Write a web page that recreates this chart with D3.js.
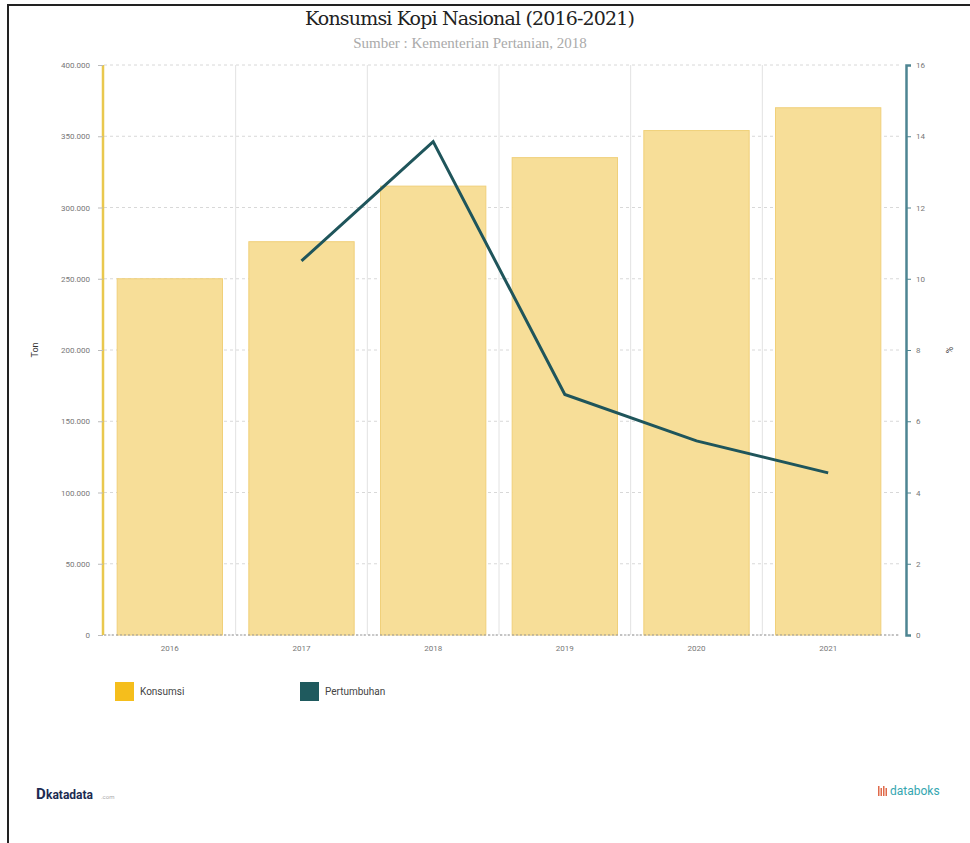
<!DOCTYPE html>
<html>
<head>
<meta charset="utf-8">
<script src="https://cdn.jsdelivr.net/npm/d3@7"></script>
<style>
  html, body { margin: 0; padding: 0; background: #fff; }
  svg { display: block; }
</style>
</head>
<body>
<svg id="chart" width="970" height="843"></svg>
<script>
const years = ["2016", "2017", "2018", "2019", "2020", "2021"];
const konsumsi = [250000, 276000, 315000, 335000, 354000, 370000];
const pertumbuhan = [null, 10.5, 13.85, 6.75, 5.45, 4.55];
const leftTicks = [0, 50000, 100000, 150000, 200000, 250000, 300000, 350000, 400000];
const rightTicks = [0, 2, 4, 6, 8, 10, 12, 14, 16];
const title = "Konsumsi Kopi Nasional (2016-2021)";
const subtitle = "Sumber : Kementerian Pertanian, 2018";
const legendLabels = ["Konsumsi", "Pertumbuhan"];

const svg = d3.select("#chart");
const fmt = d => d3.format(",")(d).replace(/,/g, ".");

// frame
svg.append("rect").attr("x", 8).attr("y", 5).attr("width", 980).attr("height", 860)
  .attr("fill", "none").attr("stroke", "#222").attr("stroke-width", 2);

const x = d3.scaleBand().domain(years).range([104, 894]).paddingInner(0.2).paddingOuter(0.1);
const yL = d3.scaleLinear().domain([0, 400000]).range([635, 65]);
const yR = d3.scaleLinear().domain([0, 16]).range([635, 65]);

// horizontal grid
svg.append("g").selectAll("line").data(leftTicks).join("line")
  .attr("x1", 104).attr("x2", 900)
  .attr("y1", d => yL(d)).attr("y2", d => yL(d))
  .attr("stroke", "#d8d8d8").attr("stroke-dasharray", "3,3").attr("stroke-width", 1);

// vertical grid (band boundaries)
const step = x.step();
const bounds = years.slice(1).map(y => x(y) - step * x.paddingInner() / 2);
svg.append("g").selectAll("line").data(bounds).join("line")
  .attr("x1", d => d).attr("x2", d => d).attr("y1", 65).attr("y2", 635)
  .attr("stroke", "#e2e2e2").attr("stroke-width", 1);

// bars
svg.append("g").selectAll("rect").data(konsumsi).join("rect")
  .attr("x", (d, i) => x(years[i]))
  .attr("width", x.bandwidth())
  .attr("y", d => yL(d))
  .attr("height", d => yL(0) - yL(d))
  .attr("fill", "#F7DE98").attr("stroke", "#F0D07A").attr("stroke-width", 1);

// bottom dashed baseline
svg.append("line").attr("x1", 104).attr("x2", 900).attr("y1", 635).attr("y2", 635)
  .attr("stroke", "#999").attr("stroke-dasharray", "2,2");

// left axis
const gL = svg.append("g").attr("transform", "translate(103,0)")
  .call(d3.axisLeft(yL).tickValues(leftTicks).tickFormat(fmt).tickSize(5).tickPadding(8));
gL.select(".domain").attr("stroke", "#E9C84E").attr("stroke-width", 2.5).attr("d", "M0,65V635");
gL.selectAll(".tick line").attr("stroke", "#bbb");
gL.selectAll("text").attr("fill", "#777").style("font", "8px Roboto, sans-serif");

// right axis
const gR = svg.append("g").attr("transform", "translate(906,0)")
  .call(d3.axisRight(yR).tickValues(rightTicks).tickSize(5).tickPadding(5));
gR.select(".domain").attr("stroke", "#4E8592").attr("stroke-width", 2.5);
gR.selectAll(".tick line").attr("stroke", "#4E8592");
gR.selectAll("text").attr("fill", "#777").style("font", "8px Roboto, sans-serif");

// x axis labels
const gX = svg.append("g").attr("transform", "translate(0,635)")
  .call(d3.axisBottom(x).tickSize(0).tickPadding(10));
gX.select(".domain").remove();
gX.selectAll("text").attr("fill", "#777").style("font", "8px Roboto, sans-serif");

// axis titles
svg.append("text").attr("transform", "translate(38,350) rotate(-90)")
  .attr("text-anchor", "middle").style("font", "9px Roboto, sans-serif").attr("fill", "#333").text("Ton");
svg.append("text").attr("transform", "translate(946,350) rotate(90)")
  .attr("text-anchor", "middle").style("font", "9px Roboto, sans-serif").attr("fill", "#333").text("%");

// line
const lineData = pertumbuhan.map((v, i) => ({ year: years[i], v })).filter(d => d.v != null);
const line = d3.line().x(d => x(d.year) + x.bandwidth() / 2).y(d => yR(d.v));
svg.append("path").datum(lineData).attr("d", line)
  .attr("fill", "none").attr("stroke", "#1F555B").attr("stroke-width", 3).attr("stroke-linejoin", "miter");

// title
svg.append("text").attr("x", 470).attr("y", 25).attr("text-anchor", "middle")
  .style("font", "19px 'DejaVu Serif', 'Liberation Serif', serif").attr("fill", "#222")
  .attr("textLength", 330).text(title);
svg.append("text").attr("x", 470).attr("y", 48).attr("text-anchor", "middle")
  .style("font", "15px 'Liberation Serif', serif").attr("fill", "#aaa").text(subtitle);

// legend
const legColors = ["#F5BE1C", "#1F5A5E"];
const legX = [115, 300];
legendLabels.forEach((l, i) => {
  svg.append("rect").attr("x", legX[i]).attr("y", 682).attr("width", 19).attr("height", 19).attr("fill", legColors[i]);
  svg.append("text").attr("x", legX[i] + 25).attr("y", 695).style("font", "10px Roboto, sans-serif")
    .attr("fill", "#444").text(l);
});

// logos
svg.append("text").attr("x", 36).attr("y", 799).style("font", "bold 15px Roboto, sans-serif").attr("fill", "#1C2B52").text("D");
svg.append("text").attr("x", 46).attr("y", 799).style("font", "bold 12px Roboto, sans-serif").attr("fill", "#1C2B52").text("katadata");
svg.append("text").attr("x", 101).attr("y", 799).style("font", "6px Roboto, sans-serif").attr("fill", "#aaa").text(".com");
// databoks icon as small marks
const iconBars = [0, 1, 2, 3];
svg.append("g").selectAll("rect").data(iconBars).join("rect")
  .attr("x", d => 878 + d * 2.5).attr("y", d => 786 + (d % 2) * 2).attr("width", 1.5).attr("height", d => 10 - (d % 2) * 2)
  .attr("fill", "#E06A4A");
svg.append("text").attr("x", 890).attr("y", 795).style("font", "12px Roboto, sans-serif").attr("fill", "#35A6B0").text("databoks");
</script>
</body>
</html>
